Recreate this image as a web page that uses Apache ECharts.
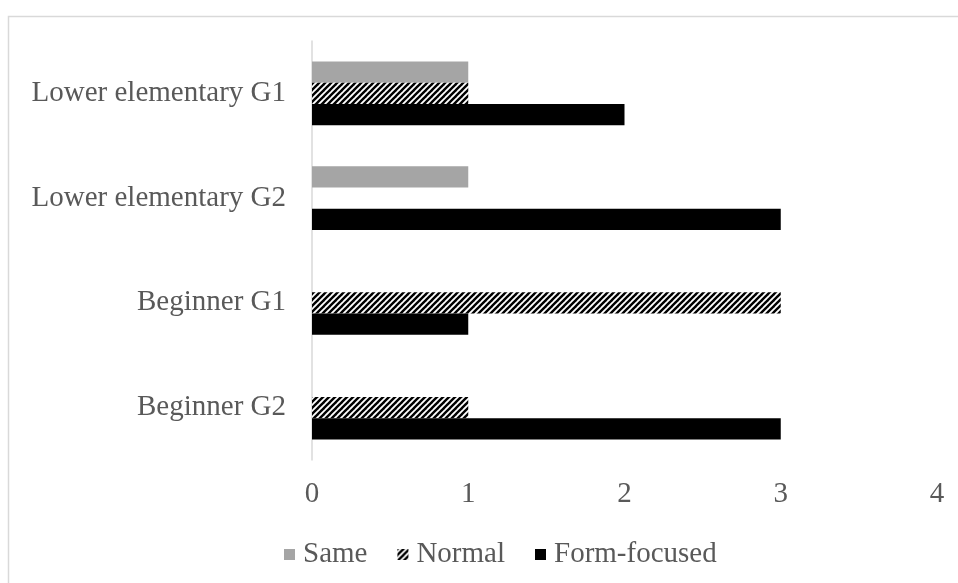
<!DOCTYPE html>
<html>
<head>
<meta charset="utf-8">
<script src="https://cdn.jsdelivr.net/npm/echarts@6/dist/echarts.min.js"></script>
<style>html,body{margin:0;padding:0;background:#fff}#c{width:958px;height:583px}</style>
</head>
<body>
<div id="c"></div>
<script>
var categories = ['Beginner G2', 'Beginner G1', 'Lower elementary G2', 'Lower elementary G1'];
var seriesNames = ['Same', 'Normal', 'Form-focused'];
var sameValues = [0, 0, 1, 1];
var normalValues = [1, 3, 0, 1];
var formValues = [3, 1, 3, 2];
var xTicks = [0, 1, 2, 3, 4];

function makeHatch() {
  var s = 6;
  var cv = document.createElement('canvas');
  cv.width = s; cv.height = s;
  var ctx = cv.getContext('2d');
  ctx.fillStyle = '#fff';
  ctx.fillRect(0, 0, s, s);
  ctx.strokeStyle = '#000';
  ctx.lineWidth = 2.4;
  for (var k = -1; k <= 1; k++) {
    ctx.beginPath();
    ctx.moveTo(k * s - 1, s + 1);
    ctx.lineTo(k * s + s + 1, -1);
    ctx.stroke();
  }
  return cv;
}
var hatch = { image: makeHatch(), repeat: 'repeat' };

var font = 'Liberation Serif';
var fs = 29;
var chart = echarts.init(document.getElementById('c'));
chart.setOption({
  animation: false,
  backgroundColor: '#fff',
  graphic: [{
    type: 'rect', left: 6, top: 14,
    shape: { width: 1000, height: 620 },
    style: { fill: 'none', stroke: '#d9d9d9', lineWidth: 1.5 }
  }],
  grid: { left: 312, right: 21, top: 41, bottom: 123 },
  legend: {
    data: seriesNames,
    left: 279, top: 535,
    icon: 'rect', itemWidth: 11, itemHeight: 11, itemGap: 30,
    textStyle: { fontFamily: font, fontSize: fs, color: '#595959', padding: [0, 0, 0, 3] }
  },
  xAxis: {
    type: 'value', min: 0, max: 4, interval: 1,
    axisLine: { show: false }, axisTick: { show: false },
    splitLine: { show: false },
    axisLabel: { fontFamily: font, fontSize: fs, color: '#595959', margin: 20,
      formatter: function (v) { return xTicks.indexOf(v) >= 0 ? String(v) : ''; } }
  },
  yAxis: {
    type: 'category', data: categories,
    axisLine: { show: true, lineStyle: { color: '#d9d9d9', width: 1.5 } },
    axisTick: { show: false },
    axisLabel: { fontFamily: font, fontSize: fs, color: '#595959', margin: 26 }
  },
  series: [
    { name: 'Same', type: 'bar', data: sameValues, barGap: '0%', barCategoryGap: '39%',
      itemStyle: { color: '#a5a5a5' } },
    { name: 'Normal', type: 'bar', data: normalValues, barGap: '0%', barCategoryGap: '39%',
      itemStyle: { color: hatch } },
    { name: 'Form-focused', type: 'bar', data: formValues, barGap: '0%', barCategoryGap: '39%',
      itemStyle: { color: '#000' } }
  ]
});
</script>
</body>
</html>
